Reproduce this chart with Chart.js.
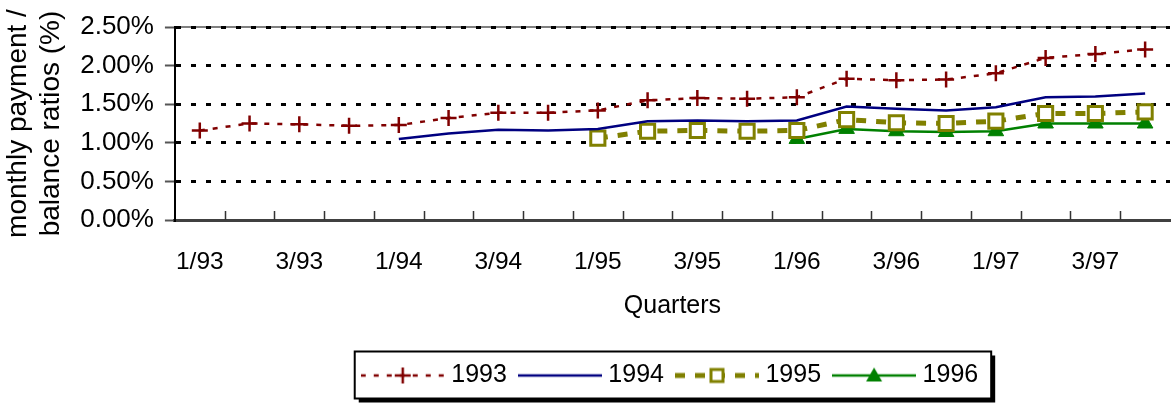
<!DOCTYPE html>
<html>
<head>
<meta charset="utf-8">
<title>Monthly payment / balance ratios</title>
<script src="https://cdn.jsdelivr.net/npm/chart.js@4"></script>
<style>
  html, body { margin: 0; padding: 0; background: #fff; overflow: hidden; }
  #wrap { width: 1175px; height: 404px; overflow: hidden; }
  canvas { display: block; }
</style>
</head>
<body>
<div id="wrap"><canvas id="ratioChart" width="1183" height="416"></canvas></div>
<script>
// quarters, 1/93 .. 4/97
const quarters = [
  '1/93', '2/93', '3/93', '4/93',
  '1/94', '2/94', '3/94', '4/94',
  '1/95', '2/95', '3/95', '4/95',
  '1/96', '2/96', '3/96', '4/96',
  '1/97', '2/97', '3/97', '4/97'
];

// ratios in percent, one series per origination year
const ratios1993 = [1.16, 1.25, 1.24, 1.22, 1.23, 1.32, 1.39, 1.39, 1.42, 1.55,
                    1.58, 1.57, 1.59, 1.83, 1.81, 1.82, 1.90, 2.10, 2.15, 2.21];
const ratios1994 = [null, null, null, null, 1.05, 1.12, 1.17, 1.16, 1.18, 1.28,
                    1.29, 1.28, 1.29, 1.47, 1.44, 1.42, 1.46, 1.59, 1.60, 1.64];
const ratios1995 = [null, null, null, null, null, null, null, null, 1.06, 1.15,
                    1.16, 1.15, 1.16, 1.30, 1.26, 1.25, 1.28, 1.38, 1.38, 1.40];
const ratios1996 = [null, null, null, null, null, null, null, null, null, null,
                    null, null, 1.05, 1.18, 1.15, 1.14, 1.15, 1.25, 1.25, 1.25];

const yTicks = [0, 0.5, 1, 1.5, 2, 2.5];

const FONT = 'Liberation Sans, Arial, sans-serif';

// Legend samples: line + marker drawn on a little canvas
function legendSample(color, width, dash, marker) {
  const c = document.createElement('canvas');
  c.width = 84;
  c.height = 24;
  const g = c.getContext('2d');
  g.strokeStyle = color;
  g.lineWidth = width;
  g.setLineDash(dash);
  g.beginPath();
  g.moveTo(0, 12);
  g.lineTo(84, 12);
  g.stroke();
  g.setLineDash([]);
  if (marker) marker(g, 42, 12);
  return c;
}

function plus(g, x, y) {
  g.strokeStyle = '#800000';
  g.lineWidth = 2.5;
  g.beginPath();
  g.moveTo(x - 8, y); g.lineTo(x + 8, y);
  g.moveTo(x, y - 8); g.lineTo(x, y + 8);
  g.stroke();
}

function square(g, x, y) {
  g.fillStyle = '#fff';
  g.fillRect(x - 7, y - 7, 14, 14);
  g.strokeStyle = '#808000';
  g.lineWidth = 3;
  g.strokeRect(x - 6, y - 6, 12, 12);
}

function triangle(g, x, y) {
  g.fillStyle = '#008000';
  g.beginPath();
  g.moveTo(x, y - 8);
  g.lineTo(x + 8, y + 6);
  g.lineTo(x - 8, y + 6);
  g.closePath();
  g.fill();
}

const samples = [
  legendSample('#800000', 2.5, [5, 8], plus),
  legendSample('#000080', 2.5, [], null),
  legendSample('#808000', 5, [10, 10], square),
  legendSample('#008000', 2.5, [], triangle)
];

/** Framed legend with a drop shadow, plus gray top border of the plot */
const frames = {
  id: 'frames',
  beforeDraw(chart) {
    const ctx = chart.ctx;
    const area = chart.chartArea;
    ctx.save();
    ctx.strokeStyle = '#808080';
    ctx.lineWidth = 2;
    ctx.beginPath();
    ctx.moveTo(area.left, area.top);
    ctx.lineTo(area.right, area.top);
    ctx.stroke();

    const boxes = chart.legend.legendHitBoxes;
    if (boxes && boxes.length) {
      const last = boxes[boxes.length - 1];
      const left = boxes[0].left - 12;
      const right = last.left + last.width + 13;
      const top = boxes[0].top - 11.5;
      const h = 47;
      ctx.fillStyle = '#000';
      ctx.fillRect(left + 4, top + 4, right - left, h);
      ctx.fillStyle = '#fff';
      ctx.fillRect(left, top, right - left, h);
      ctx.strokeStyle = '#000';
      ctx.lineWidth = 2;
      ctx.strokeRect(left, top, right - left, h);
    }
    ctx.restore();
  },
  // x tick marks point inward, between categories
  afterDraw(chart) {
    const ctx = chart.ctx;
    const xs = chart.scales.x;
    const bottom = chart.chartArea.bottom;
    ctx.save();
    ctx.strokeStyle = '#333';
    ctx.lineWidth = 1.5;
    ctx.beginPath();
    for (let i = 1; i < quarters.length; i++) {
      const x = Math.round((xs.getPixelForValue(i - 1) + xs.getPixelForValue(i)) / 2) + 0.5;
      ctx.moveTo(x, bottom);
      ctx.lineTo(x, bottom - 9);
    }
    ctx.stroke();
    ctx.restore();
  }
};

new Chart(document.getElementById('ratioChart'), {
  type: 'line',
  data: {
    labels: quarters,
    datasets: [
      {
        label: '1993', data: ratios1993,
        borderColor: '#800000', borderWidth: 2.5, borderDash: [5, 8],
        pointStyle: 'cross', pointRadius: 8, pointBorderWidth: 2.5,
        pointBorderColor: '#800000', pointBackgroundColor: '#800000'
      },
      {
        label: '1994', data: ratios1994,
        borderColor: '#000080', borderWidth: 2.5, pointRadius: 0
      },
      {
        label: '1995', data: ratios1995,
        borderColor: '#808000', borderWidth: 5, borderDash: [10, 10],
        pointStyle: 'rect', pointRadius: 10, pointBorderWidth: 3,
        pointBorderColor: '#808000', pointBackgroundColor: '#fff'
      },
      {
        label: '1996', data: ratios1996,
        borderColor: '#008000', borderWidth: 2.5,
        pointStyle: 'triangle', pointRadius: 9, pointBorderWidth: 1,
        pointBorderColor: '#008000', pointBackgroundColor: '#008000'
      }
    ]
  },
  options: {
    responsive: false,
    animation: false,
    devicePixelRatio: 1,
    events: [],
    layout: { padding: { top: 27, right: 0, left: 0, bottom: 18 } },
    scales: {
      x: {
        offset: true,
        // invisible outer ticks only push the labels down
        grid: { display: true, drawOnChartArea: false, drawTicks: true, tickLength: 28, tickColor: 'rgba(0,0,0,0)' },
        border: { display: true, color: '#404040', width: 3 },
        ticks: {
          autoSkip: false, maxRotation: 0, minRotation: 0, padding: 0,
          color: '#000', font: { family: FONT, size: 24.5 },
          callback(value, index) { return index % 2 === 0 ? this.getLabelForValue(value) : ''; }
        },
        title: {
          display: true, text: 'Quarters', color: '#000',
          font: { family: FONT, size: 25 }, padding: { top: 13.6, bottom: 25 }
        }
      },
      y: {
        min: 0, max: 2.5,
        afterBuildTicks(scale) { scale.ticks = yTicks.map(v => ({ value: v })); },
        ticks: {
          padding: 11, color: '#000', font: { family: FONT, size: 26 },
          callback: v => v.toFixed(2) + '%'
        },
        grid: {
          color: c => (c.tick && c.tick.value === 0 ? 'rgba(0,0,0,0)' : '#000'),
          lineWidth: 3, tickColor: '#555', tickWidth: 2, tickLength: 10
        },
        border: { display: true, color: '#000', width: 2, dash: [5, 10] },
        title: {
          display: true, text: ['monthly payment /', 'balance ratios (%)'], color: '#000',
          font: { family: FONT, size: 28, lineHeight: 1.2 }, padding: { top: 1, bottom: 1 }
        }
      }
    },
    plugins: {
      tooltip: { enabled: false },
      legend: {
        position: 'bottom',
        fullSize: false,
        labels: {
          usePointStyle: true,
          pointStyleWidth: 72,
          padding: 17,
          color: '#000',
          font: { family: FONT, size: 25 },
          generateLabels: chart => chart.data.datasets.map((ds, i) => ({
            text: ds.label, pointStyle: samples[i], datasetIndex: i, hidden: false,
            lineWidth: 0, strokeStyle: 'rgba(0,0,0,0)', fillStyle: 'rgba(0,0,0,0)', fontColor: '#000'
          }))
        }
      }
    }
  },
  plugins: [frames]
});
</script>
</body>
</html>
